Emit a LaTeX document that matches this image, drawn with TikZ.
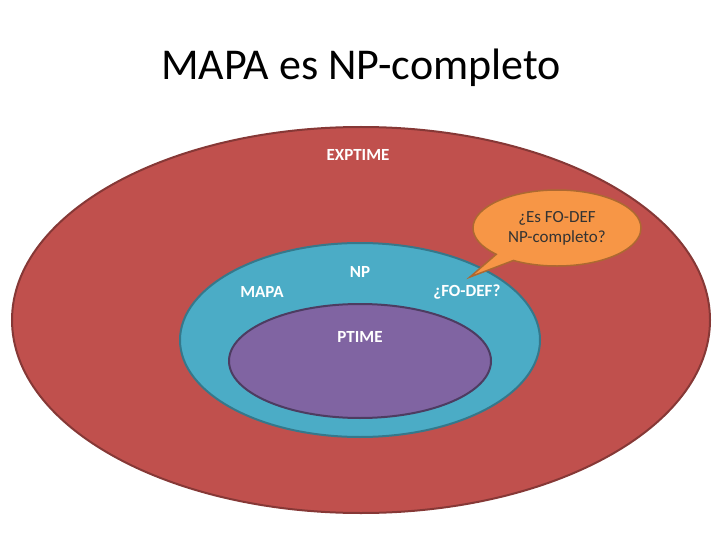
\documentclass[tikz,border=0pt]{standalone}
\usepackage{fontspec}
\setmainfont{Carlito}
\usetikzlibrary{shapes.callouts}
\definecolor{exred}{HTML}{C0504D}
\definecolor{npblue}{HTML}{4BACC6}
\definecolor{ptpurple}{HTML}{8064A2}
\definecolor{qorange}{HTML}{F79646}
\begin{document}
\begin{tikzpicture}[x=1pt,y=-1pt,
    class/.style={draw, line width=2pt},
    lbl/.style={text=white, font=\fontsize{17}{20}\selectfont\bfseries}
]
    \useasboundingbox (0,0) rectangle (720,540);
    \node[font=\fontsize{44}{50}\selectfont] (title) at (361,68) {MAPA es NP-completo};
    % nested classes
    \draw[class, fill=exred, draw=exred!70!black] (361,320) ellipse [x radius=349, y radius=193];
    \draw[class, fill=npblue, draw=npblue!70!black] (360,340) ellipse [x radius=180, y radius=97];
    \draw[class, fill=ptpurple, draw=ptpurple!60!black] (360,361) ellipse [x radius=131, y radius=57];
    \node[lbl] (exptime) at (358,155) {EXPTIME};
    \node[lbl] (mapa) at (262,292) {MAPA};
    \node[lbl] (np) at (360,272) {NP};
    \node[lbl] (fodef) at (467,292) {¿FO-DEF?};
    \node[lbl] (ptime) at (360,337) {PTIME};
    % callout
    \node[ellipse callout, fill=qorange, draw=qorange!70!black,
          line width=1.5pt, minimum width=168pt, minimum height=76pt, align=center,
          inner sep=0pt, font=\fontsize{17}{20}\selectfont, text=black!80,
          callout absolute pointer={(470,277)}] (question) at (557,228)
          {¿Es FO-DEF\\NP-completo?};
\end{tikzpicture}
\end{document}
